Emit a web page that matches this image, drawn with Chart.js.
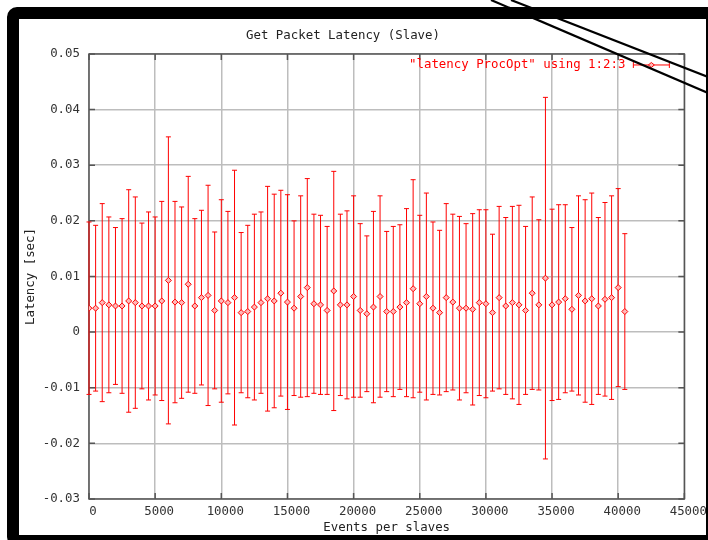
<!DOCTYPE html>
<html>
<head>
<meta charset="utf-8">
<title>Get Packet Latency (Slave)</title>
<script src="https://cdn.jsdelivr.net/npm/chart.js@4"></script>
<style>
  html, body { margin: 0; padding: 0; background: #fff; overflow: hidden; }
  #wrap { position: relative; width: 708px; height: 540px; overflow: hidden; }
  #chart { position: absolute; left: 0; top: 0; }
  /* monitor bezel around the plot */
  #bezel {
    position: absolute; left: 7px; top: 7px; width: 711px; height: 540px;
    box-sizing: border-box; border: 12px solid #000; border-radius: 10px;
    pointer-events: none;
  }
  #cables { position: absolute; left: 0; top: 0; pointer-events: none; }
</style>
</head>
<body>
<div id="wrap">
  <canvas id="chart" width="708" height="540"></canvas>
  <div id="bezel"></div>
  <svg id="cables" width="708" height="540">
    <line x1="491" y1="0" x2="708" y2="93" stroke="#000" stroke-width="2.2"/>
    <line x1="511" y1="0" x2="708" y2="77" stroke="#000" stroke-width="2.2"/>
  </svg>
</div>
<script>
const eventsPerSlave = [
  0, 500, 1000, 1500, 2000, 2500, 3000, 3500, 4000, 4500,
  5000, 5500, 6000, 6500, 7000, 7500, 8000, 8500, 9000, 9500,
  10000, 10500, 11000, 11500, 12000, 12500, 13000, 13500, 14000, 14500,
  15000, 15500, 16000, 16500, 17000, 17500, 18000, 18500, 19000, 19500,
  20000, 20500, 21000, 21500, 22000, 22500, 23000, 23500, 24000, 24500,
  25000, 25500, 26000, 26500, 27000, 27500, 28000, 28500, 29000, 29500,
  30000, 30500, 31000, 31500, 32000, 32500, 33000, 33500, 34000, 34500,
  35000, 35500, 36000, 36500, 37000, 37500, 38000, 38500, 39000, 39500,
  40000, 40500
];

// mean latency [sec]
const latency = [
  0.0043, 0.0043, 0.0053, 0.0049, 0.0047, 0.0047, 0.0056, 0.0053, 0.0047, 0.0047,
  0.0047, 0.0056, 0.0093, 0.0054, 0.0053, 0.0086, 0.0047, 0.0062, 0.0066, 0.0039,
  0.0056, 0.0053, 0.0062, 0.0035, 0.0037, 0.0045, 0.0053, 0.0060, 0.0056, 0.0070,
  0.0054, 0.0043, 0.0064, 0.0080, 0.0051, 0.0049, 0.0039, 0.0074, 0.0049, 0.0049,
  0.0064, 0.0039, 0.0033, 0.0045, 0.0064, 0.0037, 0.0037, 0.0045, 0.0053, 0.0078,
  0.0051, 0.0064, 0.0043, 0.0035, 0.0062, 0.0054, 0.0043, 0.0043, 0.0041, 0.0053,
  0.0051, 0.0035, 0.0062, 0.0047, 0.0053, 0.0049, 0.0039, 0.0070, 0.0049, 0.0097,
  0.0049, 0.0054, 0.0060, 0.0041, 0.0066, 0.0056, 0.0060, 0.0047, 0.0059, 0.0062,
  0.0080, 0.0037
];

// symmetric error (column 3 of the data file)
const latencyDelta = [
  0.0155, 0.0149, 0.0178, 0.0158, 0.0141, 0.0157, 0.0200, 0.0190, 0.0149, 0.0169,
  0.0160, 0.0179, 0.0258, 0.0181, 0.0172, 0.0194, 0.0157, 0.0157, 0.0198, 0.0141,
  0.0182, 0.0164, 0.0229, 0.0144, 0.0155, 0.0167, 0.0163, 0.0202, 0.0192, 0.0185,
  0.0193, 0.0157, 0.0181, 0.0196, 0.0161, 0.0161, 0.0151, 0.0215, 0.0163, 0.0169,
  0.0181, 0.0156, 0.0140, 0.0172, 0.0181, 0.0144, 0.0153, 0.0148, 0.0169, 0.0196,
  0.0159, 0.0186, 0.0155, 0.0148, 0.0169, 0.0158, 0.0165, 0.0152, 0.0172, 0.0167,
  0.0169, 0.0141, 0.0164, 0.0159, 0.0173, 0.0179, 0.0151, 0.0173, 0.0153, 0.0325,
  0.0172, 0.0175, 0.0169, 0.0147, 0.0179, 0.0182, 0.0190, 0.0159, 0.0174, 0.0183,
  0.0178, 0.0140
];

const xTicks = [0, 5000, 10000, 15000, 20000, 25000, 30000, 35000, 40000, 45000];
const yTicks = [-0.03, -0.02, -0.01, 0, 0.01, 0.02, 0.03, 0.04, 0.05];
const yTickLabels = ['-0.03', '-0.02', '-0.01', '0', '0.01', '0.02', '0.03', '0.04', '0.05'];

const seriesLabel = '"latency ProcOpt" using 1:2:3';
const RED = '#ff0000';
const FONT = 'DejaVu Sans Mono';
const FONT_SIZE = 12.4;

Chart.defaults.font.family = FONT;
Chart.defaults.font.size = FONT_SIZE;
Chart.defaults.color = '#333';

function drawDiamond(ctx, cx, cy) {
  ctx.beginPath();
  ctx.moveTo(cx - 3, cy);
  ctx.lineTo(cx, cy - 2.5);
  ctx.lineTo(cx + 3, cy);
  ctx.lineTo(cx, cy + 2.5);
  ctx.closePath();
  ctx.fillStyle = '#ffb8b8';
  ctx.fill();
  ctx.stroke();
}

// border, inward tics, error bars and the key, gnuplot style
const gnuplotDecor = {
  id: 'gnuplotDecor',
  beforeDatasetsDraw(chart) {
    const { ctx, chartArea: a, scales: { x, y } } = chart;
    ctx.save();

    ctx.strokeStyle = '#555';
    ctx.lineWidth = 1.5;
    ctx.beginPath();
    x.ticks.forEach(t => {
      const px = x.getPixelForValue(t.value);
      ctx.moveTo(px, a.top); ctx.lineTo(px, a.top + 6);
      ctx.moveTo(px, a.bottom); ctx.lineTo(px, a.bottom - 6);
    });
    y.ticks.forEach(t => {
      const py = y.getPixelForValue(t.value);
      ctx.moveTo(a.left, py); ctx.lineTo(a.left + 6, py);
      ctx.moveTo(a.right, py); ctx.lineTo(a.right - 6, py);
    });
    ctx.stroke();
    ctx.strokeRect(a.left, a.top, a.right - a.left, a.bottom - a.top);

    ctx.strokeStyle = RED;
    ctx.lineWidth = 1;
    ctx.beginPath();
    latency.forEach((v, i) => {
      const px = x.getPixelForValue(eventsPerSlave[i]);
      const hi = y.getPixelForValue(v + latencyDelta[i]);
      const lo = y.getPixelForValue(v - latencyDelta[i]);
      ctx.moveTo(px, hi); ctx.lineTo(px, lo);
      ctx.moveTo(px - 2.5, hi); ctx.lineTo(px + 2.5, hi);
      ctx.moveTo(px - 2.5, lo); ctx.lineTo(px + 2.5, lo);
    });
    ctx.stroke();
    ctx.restore();
  },
  afterDraw(chart) {
    const { ctx, chartArea: a } = chart;
    const ky = a.top + 11;
    ctx.save();
    ctx.font = `${FONT_SIZE}px "${FONT}"`;
    ctx.fillStyle = RED;
    ctx.textAlign = 'right';
    ctx.textBaseline = 'middle';
    ctx.fillText(seriesLabel, a.right - 59, ky);

    const x0 = a.right - 51, x1 = a.right - 15;
    ctx.strokeStyle = RED;
    ctx.lineWidth = 1;
    ctx.beginPath();
    ctx.moveTo(x0, ky); ctx.lineTo(x1, ky);
    ctx.moveTo(x0, ky - 3); ctx.lineTo(x0, ky + 3);
    ctx.moveTo(x1, ky - 3); ctx.lineTo(x1, ky + 3);
    ctx.stroke();
    drawDiamond(ctx, (x0 + x1) / 2, ky);
    ctx.restore();
  }
};

new Chart(document.getElementById('chart'), {
  type: 'scatter',
  data: {
    datasets: [{
      label: seriesLabel,
      data: eventsPerSlave.map((ev, i) => ({ x: ev, y: latency[i] })),
      pointStyle: 'rectRot',
      pointRadius: 3,
      pointBorderWidth: 1,
      borderColor: RED,
      backgroundColor: '#ffb8b8',
      showLine: false,
    }],
  },
  options: {
    responsive: false,
    animation: false,
    layout: { padding: { left: 0, right: 22, top: 0, bottom: 0 } },
    plugins: {
      legend: { display: false },
      tooltip: { enabled: false },
      title: {
        display: true,
        text: 'Get Packet Latency (Slave)',
        color: '#222',
        font: { size: FONT_SIZE, weight: 'normal' },
        padding: { top: 28.6, bottom: 10.5 },
      },
    },
    scales: {
      x: {
        type: 'linear',
        min: 0,
        max: 45000,
        afterBuildTicks(scale) { scale.ticks = xTicks.map(v => ({ value: v })); },
        afterFit(scale) { scale.height = 41; },
        ticks: { color: '#333', padding: 5, labelOffset: 4, maxRotation: 0, autoSkip: false,
                 callback: v => String(v) },
        grid: { color: '#bdbdbd', lineWidth: 1.5, drawTicks: false },
        border: { display: false },
        title: { display: true, text: 'Events per slaves', color: '#222', padding: { top: 0, bottom: 4.5 } },
      },
      y: {
        min: -0.03,
        max: 0.05,
        afterBuildTicks(scale) { scale.ticks = yTicks.map(v => ({ value: v })); },
        afterFit(scale) { scale.width = 89; },
        ticks: { color: '#333', padding: 9, autoSkip: false,
                 callback: (v, i) => yTickLabels[i] },
        grid: { color: '#bdbdbd', lineWidth: 1.5, drawTicks: false },
        border: { display: false },
        title: { display: true, text: 'Latency [sec]', color: '#222', padding: { top: 23.5, bottom: 0 } },
      },
    },
  },
  plugins: [gnuplotDecor],
});
</script>
</body>
</html>
